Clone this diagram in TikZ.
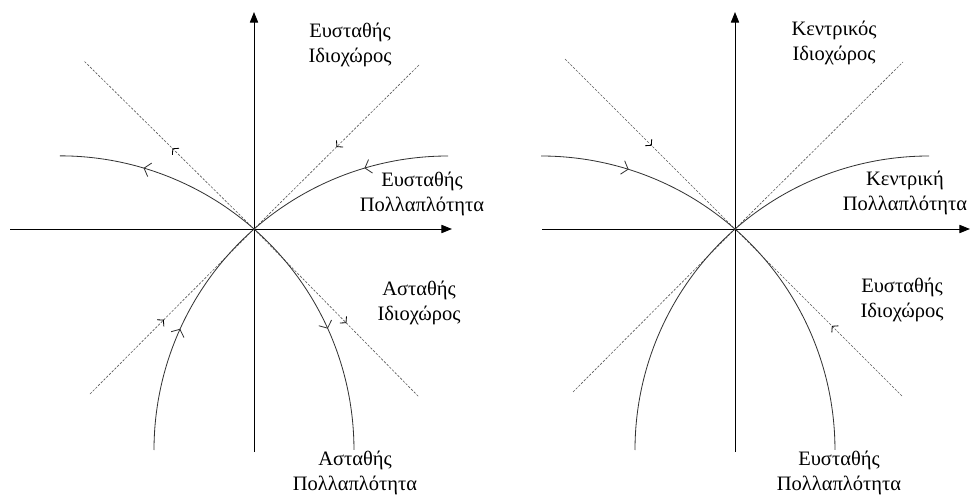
\documentclass[tikz,border=0pt]{standalone}
\usepackage{fontspec}
\setmainfont{Liberation Serif}
\usetikzlibrary{arrows.meta,decorations.markings}
\tikzset{
  axis/.style={line width=0.8pt,-{Triangle[length=9pt,width=7pt]}},
  eigen/.style={black!65,line width=0.55pt,dash pattern=on 2pt off 1.3pt},
  manif/.style={black!80,line width=0.7pt},
  lbl/.style={align=center,font=\fontsize{17.5}{22}\selectfont},
  % arrow marks along a path
  bigarr/.style={postaction={decorate},decoration={markings,
      mark=at position #1 with {\arrow{Straight Barb[length=5pt,width=12pt,line width=0.7pt]}}}},
  smallarr/.style={postaction={decorate},decoration={markings,
      mark=at position #1 with {\arrow{Straight Barb[length=3.5pt,width=8pt,line width=0.7pt,color=black]}}}},
}
\def\rad{8.82cm}
\begin{document}
\begin{tikzpicture}[x=0.03cm,y=0.03cm]
  \useasboundingbox (0,0) rectangle (972,495);

  % Left: saddle
  \begin{scope}[shift={(254,266)}]
    \coordinate (o1) at (0,0);
    \draw[axis] (-244,0) -- (198,0);
    \draw[axis] (0,-223) -- (0,217);
    % eigenspaces
    \draw[eigen,smallarr=0.48] (o1) -- (-170,168);
    \draw[eigen,smallarr=0.5] (165,164) -- (o1);
    \draw[eigen,smallarr=0.45] (-164,-165) -- (o1);
    \draw[eigen,smallarr=0.56] (o1) -- (165,-168);
    % unstable manifold
    \draw[manif,bigarr=0.6] (o1) arc[start angle=48.7,end angle=90,radius=\rad];
    \draw[manif,bigarr=0.5] (o1) arc[start angle=48.7,end angle=0,radius=\rad];
    % stable manifold
    \draw[manif,bigarr=0.4] (194,73) arc[start angle=90,end angle=131.3,radius=\rad];
    \draw[manif,bigarr=0.5] (-100,-221) arc[start angle=180,end angle=131.3,radius=\rad];
  \end{scope}

  % Right: centre
  \begin{scope}[shift={(735,266)}]
    \coordinate (o2) at (0,0);
    \draw[axis] (-193,0) -- (235,0);
    \draw[axis] (0,-223) -- (0,217);
    % eigenspaces
    \draw[eigen,smallarr=0.51] (-170,170) -- (o2);
    \draw[eigen] (o2) -- (168,167);
    \draw[eigen] (-162,-163) -- (o2);
    \draw[eigen,smallarr=0.42] (167,-167) -- (o2);
    % manifolds
    \draw[manif,bigarr=0.42] (-194,73) arc[start angle=90,end angle=48.7,radius=\rad];
    \draw[manif] (o2) arc[start angle=48.7,end angle=0,radius=\rad];
    \draw[manif] (194,73) arc[start angle=90,end angle=131.3,radius=\rad];
    \draw[manif] (-100,-221) arc[start angle=180,end angle=131.3,radius=\rad];
  \end{scope}

  % labels
  \node[lbl] (es1) at (350,450) {Ευσταθής\\Ιδιοχώρος};
  \node[lbl] (sm1) at (422,301) {Ευσταθής\\Πολλαπλότητα};
  \node[lbl] (us1) at (419,192) {Ασταθής\\Ιδιοχώρος};
  \node[lbl] (um1) at (355,22) {Ασταθής\\Πολλαπλότητα};
  \node[lbl] (cs2) at (834,452) {Κεντρικός\\Ιδιοχώρος};
  \node[lbl] (cm2) at (905,302) {Κεντρική\\Πολλαπλότητα};
  \node[lbl] (ss2) at (902,195) {Ευσταθής\\Ιδιοχώρος};
  \node[lbl] (sm2) at (839,22) {Ευσταθής\\Πολλαπλότητα};
\end{tikzpicture}
\end{document}
